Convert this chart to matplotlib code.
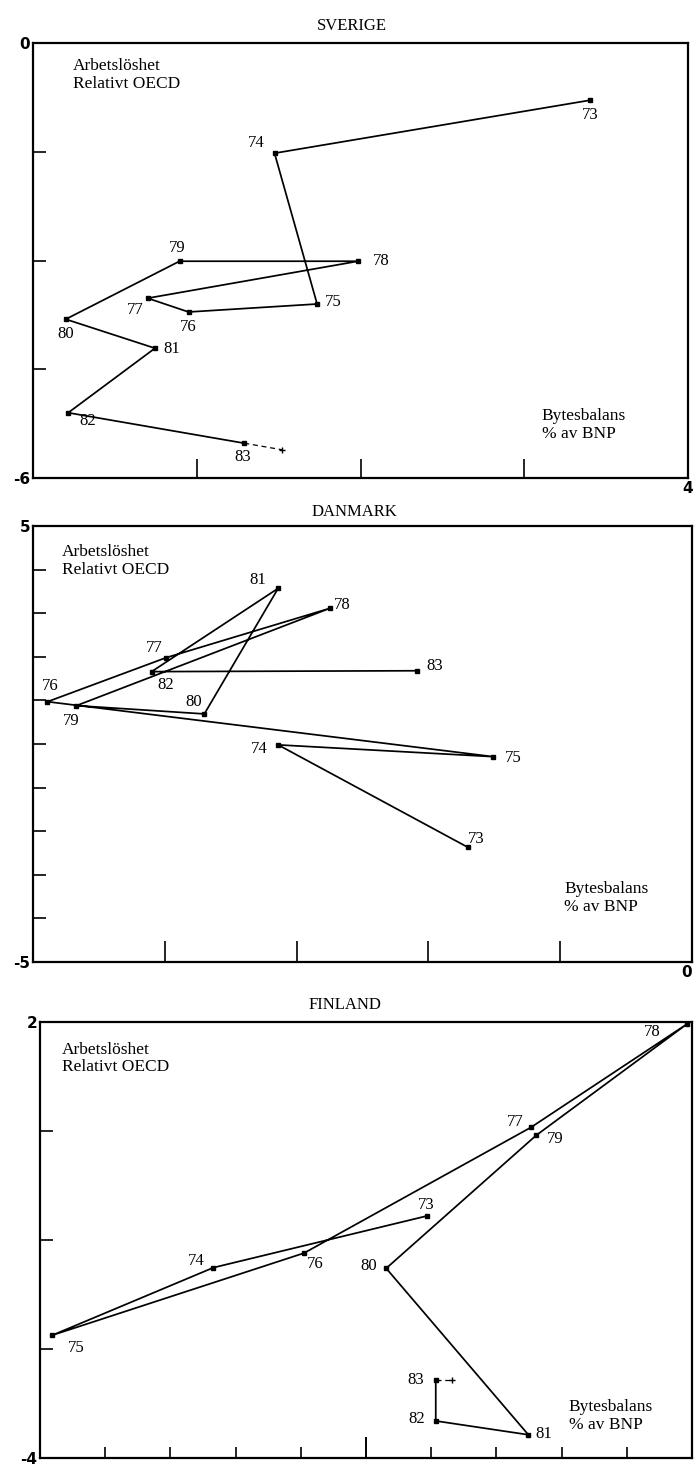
import matplotlib
matplotlib.use("Agg")
import matplotlib.pyplot as plt

# år (etiketter vid punkterna)
years = ['73', '74', '75', '76', '77', '78', '79', '80', '81', '82', '83']

# Sverige: bytesbalans % av BNP (x), arbetslöshet relativt OECD (y)
sv_bytes = [2.80, -1.05, -0.53, -2.10, -2.60, -0.03, -2.21, -3.60, -2.51, -3.57, -1.42]
sv_arb = [-0.79, -1.52, -3.60, -3.71, -3.52, -3.01, -3.01, -3.81, -4.21, -5.10, -5.52]
sv_prog = [-0.96, -5.61]   # kort streckad fortsättning efter 83

# Danmark
dk_bytes = [-1.70, -3.14, -1.51, -4.89, -3.99, -2.75, -4.67, -3.70, -3.14, -4.10, -2.09]
dk_arb = [-2.37, -0.02, -0.29, 0.97, 1.98, 3.11, 0.88, 0.69, 3.57, 1.66, 1.68]

# Finland
fi_bytes = [-2.07, -5.34, -7.81, -3.95, -0.47, 1.92, -0.39, -2.69, -0.51, -1.93, -1.93]
fi_arb = [-0.67, -1.38, -2.31, -1.18, 0.55, 1.97, 0.44, -1.39, -3.68, -3.49, -2.92]
fi_prog = [-1.68, -2.92]

# etikettplacering (pixlar relativt punkten)
sv_off = [(0, -15), (-18, 10), (16, 2), (0, -15), (-12, -12), (23, 0),
          (-2, 13), (0, -15), (17, -1), (19, -8), (-2, -14)]
dk_off = [(8, 8), (-19, -4), (20, -1), (3, 16), (-12, 10), (13, 3),
          (-5, -15), (-11, 12), (-20, 8), (14, -13), (18, 5)]
fi_off = [(0, 11), (-17, 7), (24, -13), (11, -11), (-16, 5), (-35, -8),
          (19, -4), (-18, 2), (15, 1), (-19, 2), (-20, 0)]

SERIF = 'Liberation Serif'
W, H = 694, 1475
fig = plt.figure(figsize=(W / 100, H / 100), dpi=100)


def axes_px(left, right, top, bottom):
    return fig.add_axes([left / W, 1 - bottom / H, (right - left) / W, (bottom - top) / H])


def panel(ax, xs, ys, offs, xlim, ylim, prog=None):
    ax.plot(xs, ys, color='black', lw=1.25, marker='s', ms=3.5, zorder=3)
    if prog is not None:
        ax.plot([xs[-1], prog[0]], [ys[-1], prog[1]], color='black', lw=0.9,
                ls=(0, (4, 3)), marker='+', ms=4, markevery=[1])
    for x, y, lab, o in zip(xs, ys, years, offs):
        ax.annotate(lab, (x, y), xytext=o, textcoords='offset pixels',
                    ha='center', va='center', fontsize=12, family=SERIF)
    ax.set_xlim(*xlim)
    ax.set_ylim(*ylim)
    for s in ax.spines.values():
        s.set_linewidth(1.6)
    ax.tick_params(direction='in', length=9, width=1.2, pad=2,
                   labelsize=11, labelfontfamily='DejaVu Sans')


def bold_labels(ax):
    for t in ax.get_xticklabels() + ax.get_yticklabels():
        t.set_fontweight('bold')


def texts(ax, top_xy, bot_xy):
    ax.text(top_xy[0], top_xy[1], 'Arbetslöshet\nRelativt OECD', transform=ax.transAxes,
            ha='left', va='top', fontsize=12.5, family=SERIF, linespacing=1.15)
    ax.text(bot_xy[0], bot_xy[1], 'Bytesbalans\n% av BNP', transform=ax.transAxes,
            ha='left', va='top', fontsize=12.5, family=SERIF, linespacing=1.15)


# SVERIGE
ax1 = axes_px(33, 688, 43, 478)
panel(ax1, sv_bytes, sv_arb, sv_off, (-4, 4), (-6, 0), sv_prog)
ax1.set_xticks([-4, -2, 0, 2, 4])
ax1.set_xticklabels(['', '', '', '', '4'])
ax1.set_yticks([-6, -4.5, -3, -1.5, 0])
ax1.set_yticklabels(['-6', '', '', '', '0'])
bold_labels(ax1)
ax1.tick_params(axis='x', length=14)
texts(ax1, (0.061, 0.965), (0.777, 0.16))
fig.text(352 / W, 1 - 26 / H, 'SVERIGE', ha='center', va='center', fontsize=12, family=SERIF)

# DANMARK
ax2 = axes_px(33, 692, 526, 962)
panel(ax2, dk_bytes, dk_arb, dk_off, (-5, 0), (-5, 5))
ax2.set_xticks([-5, -4, -3, -2, -1, 0])
ax2.set_xticklabels(['', '', '', '', '', '0'])
ax2.set_yticks(list(range(-5, 6)))
ax2.set_yticklabels(['-5'] + [''] * 9 + ['5'])
bold_labels(ax2)
ax2.get_xticklabels()[-1].set_horizontalalignment('right')
ax2.tick_params(axis='x', length=15)
texts(ax2, (0.044, 0.958), (0.806, 0.185))
fig.text(354 / W, 1 - 512 / H, 'DANMARK', ha='center', va='center', fontsize=12, family=SERIF)

# FINLAND
ax3 = axes_px(40, 692, 1022, 1458)
panel(ax3, fi_bytes, fi_arb, fi_off, (-8, 2), (-4, 2), fi_prog)
ax3.set_xticks([-3])
ax3.set_xticklabels([''])
ax3.set_xticks([-7, -6, -5, -4, -2, -1, 0, 1], minor=True)
ax3.tick_params(axis='x', which='major', length=15, width=1.4)
ax3.tick_params(axis='x', which='minor', direction='in', length=8, width=1.2)
ax3.set_yticks([-4, -2.5, -1, 0.5, 2])
ax3.set_yticklabels(['-4', '', '', '', '2'])
bold_labels(ax3)
texts(ax3, (0.034, 0.955), (0.811, 0.135))
fig.text(345 / W, 1 - 1005 / H, 'FINLAND', ha='center', va='center', fontsize=12, family=SERIF)

fig.savefig('out.png', dpi=100)
